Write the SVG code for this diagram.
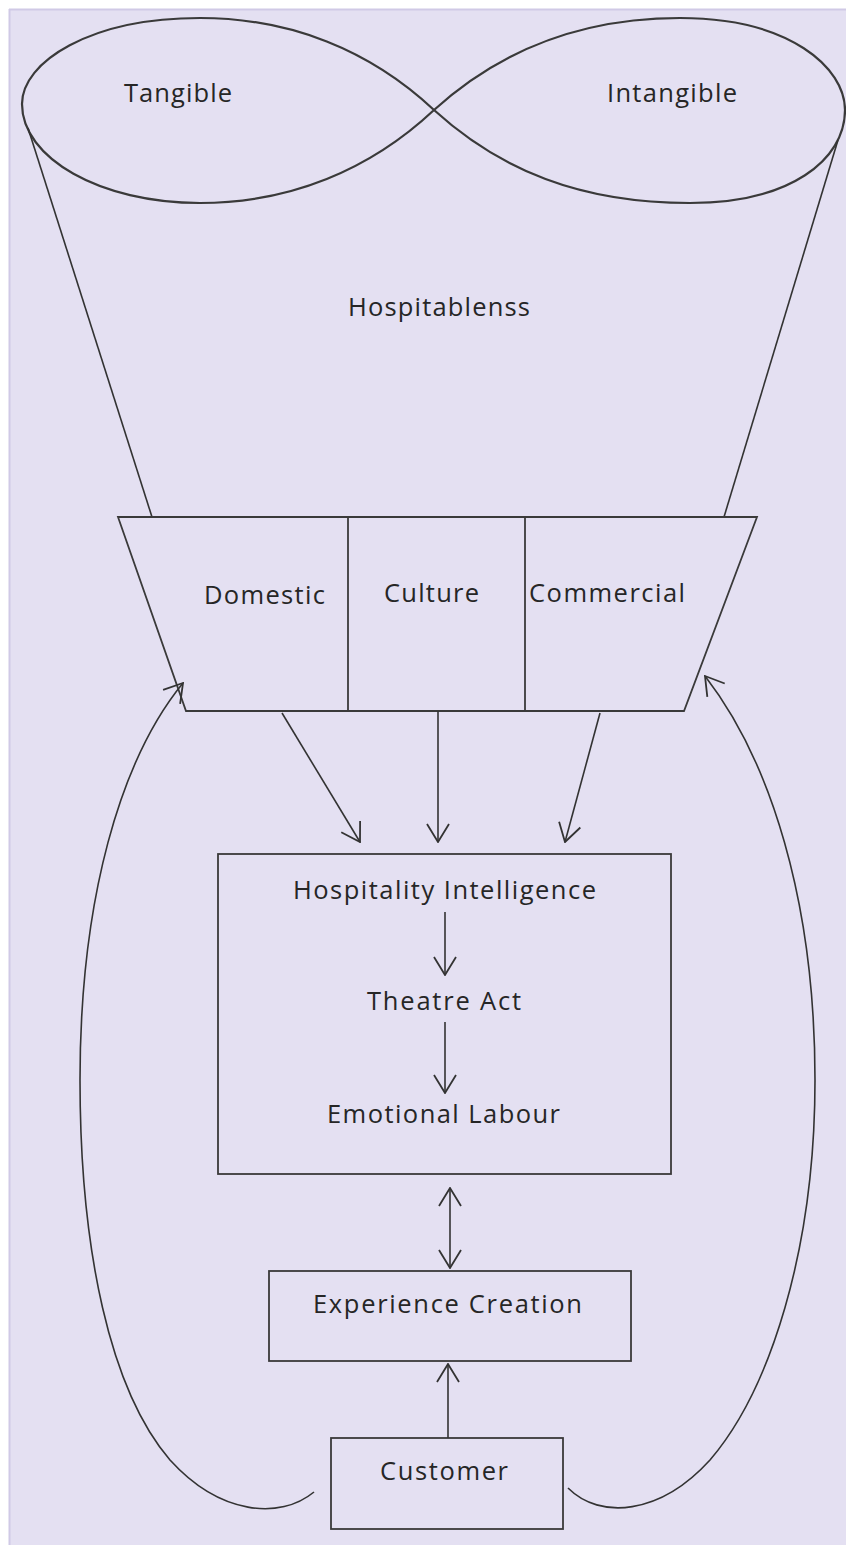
<svg xmlns="http://www.w3.org/2000/svg" width="846" height="1545" viewBox="0 0 846 1545">
<style>
.ln{fill:none;stroke:#333;stroke-width:1.6}
.shape{fill:none;stroke:#3a3a3a;stroke-width:1.8}
.inf{fill:none;stroke:#3a3a3a;stroke-width:2.2}
.t{font-family:"Open Sans","DejaVu Sans",sans-serif;font-size:25.5px;fill:#262626}
</style>
<defs>
<marker id="ah" viewBox="0 0 20 24" refX="19" refY="12" markerWidth="20" markerHeight="24" markerUnits="userSpaceOnUse" orient="auto-start-reverse">
<path d="M1,1 L19,12 L1,23" fill="none" stroke="#333" stroke-width="1.8"/>
</marker>
</defs>
<rect x="0" y="0" width="846" height="1545" fill="#ffffff"/>
<rect x="9" y="9" width="837" height="1536" fill="#e4e0f2"/>
<line x1="9.5" y1="9" x2="9.5" y2="1545" stroke="#d0c9e6" stroke-width="2"/>
<line x1="9" y1="9.5" x2="846" y2="9.5" stroke="#d0c9e6" stroke-width="2"/>

<g id="infinity">
<path class="inf" d="M434,110 C370,50 290,18 200,18 C90,18 22,62 22,104 C22,158 100,203 200,203 C290,203 370,170 434,110 Z"/>
<path class="inf" d="M434,110 C500,50 580,18 680,18 C790,18 845,68 845,110 C845,160 790,203 690,203 C580,203 500,170 434,110 Z"/>
<text class="t" x="124" y="102" textLength="108">Tangible</text>
<text class="t" x="607" y="102" textLength="130">Intangible</text>
</g>

<g id="hospitableness">
<line class="ln" x1="152" y1="517" x2="28" y2="128"/>
<line class="ln" x1="724" y1="517" x2="838" y2="140"/>
<text class="t" x="348" y="316" textLength="182">Hospitablenss</text>
</g>

<g id="trapezoid">
<path class="shape" d="M118,517 L757,517 L684,711 L186,711 Z"/>
<line class="shape" x1="348" y1="517" x2="348" y2="711"/>
<line class="shape" x1="525" y1="517" x2="525" y2="711"/>
</g>
<g id="domestic"><text class="t" x="204" y="604" textLength="121">Domestic</text></g>
<g id="culture"><text class="t" x="384" y="602" textLength="95">Culture</text></g>
<g id="commercial"><text class="t" x="529" y="602" textLength="156">Commercial</text></g>

<g id="hi-box">
<rect class="shape" x="218" y="854" width="453" height="320"/>
<text class="t" x="293" y="899" textLength="303">Hospitality  Intelligence</text>
<text class="t" x="367" y="1010" textLength="154">Theatre Act</text>
<text class="t" x="327" y="1123" textLength="233">Emotional  Labour</text>
</g>

<g id="experience">
<rect class="shape" x="269" y="1271" width="362" height="90"/>
<text class="t" x="313" y="1313" textLength="269">Experience  Creation</text>
</g>

<g id="customer">
<rect class="shape" x="331" y="1438" width="232" height="91"/>
<text class="t" x="380" y="1480" textLength="128">Customer</text>
</g>

<g id="connectors">
<line class="ln" x1="282" y1="713" x2="360" y2="842" marker-end="url(#ah)"/>
<line class="ln" x1="438" y1="711" x2="438" y2="842" marker-end="url(#ah)"/>
<line class="ln" x1="600" y1="713" x2="565" y2="842" marker-end="url(#ah)"/>
<line class="ln" x1="445" y1="912" x2="445" y2="975" marker-end="url(#ah)"/>
<line class="ln" x1="445" y1="1022" x2="445" y2="1093" marker-end="url(#ah)"/>
<line class="ln" x1="450" y1="1188" x2="450" y2="1268" marker-start="url(#ah)" marker-end="url(#ah)"/>
<line class="ln" x1="448" y1="1438" x2="448" y2="1364" marker-end="url(#ah)"/>
<path class="ln" d="M314,1492 C280,1520 220,1515 170,1460 C110,1390 80,1250 80,1080 C80,900 120,760 183,683" marker-end="url(#ah)"/>
<path class="ln" d="M568,1488 C600,1520 660,1515 710,1460 C770,1390 815,1250 815,1080 C815,900 770,760 705,676" marker-end="url(#ah)"/>
</g>
</svg>
